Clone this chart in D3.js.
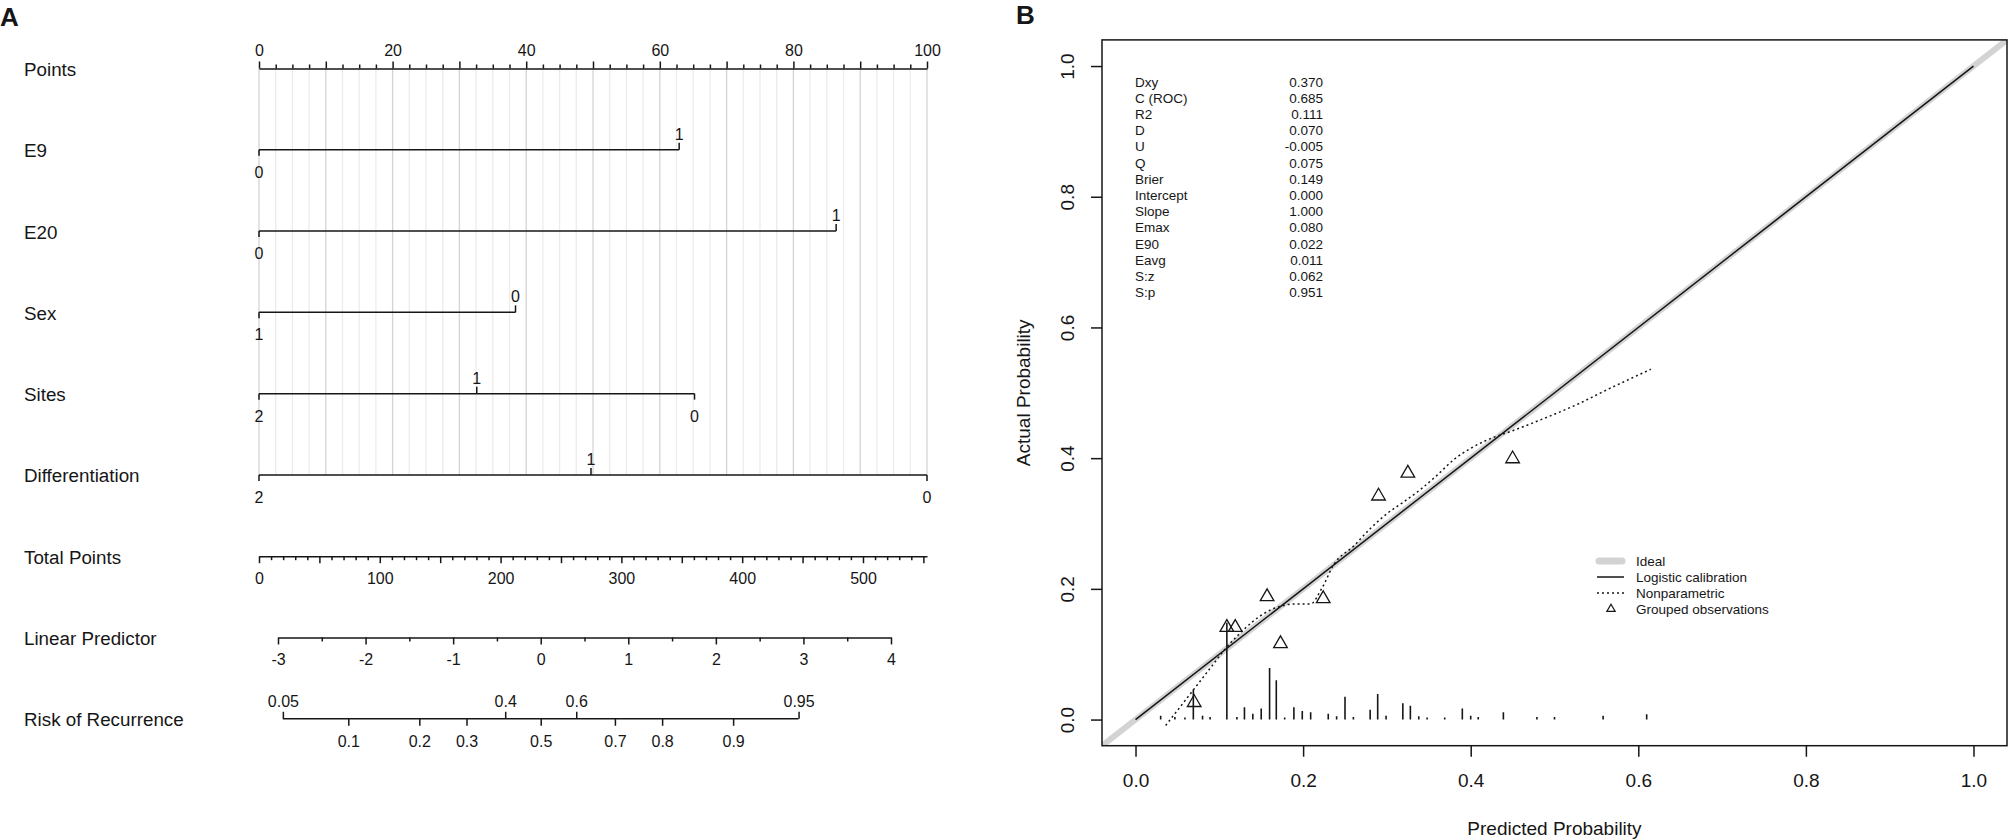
<!DOCTYPE html>
<html>
<head>
<meta charset="utf-8">
<title>Nomogram and calibration curve</title>
<script src="https://cdn.jsdelivr.net/npm/d3@7/dist/d3.min.js"></script>
<style>
  body { margin: 0; background: #fff; }
  svg { display: block; font-family: 'Liberation Sans', Arial, sans-serif; }
</style>
</head>
<body>
<svg id="chart" width="2008" height="840"></svg>
<script>
// ---------- Panel A: nomogram ----------
const rowNames = ['Points', 'E9', 'E20', 'Sex', 'Sites', 'Differentiation', 'Total Points', 'Linear Predictor', 'Risk of Recurrence']
const pointsLabels = [0, 20, 40, 60, 80, 100]
const varNames = ['E9', 'E20', 'Sex', 'Sites', 'Differentiation']
const varLevels = [['0', '1'], ['0', '1'], ['1', '0'], ['2', '1', '0'], ['2', '1', '0']]
const varPoints = [[0, 62.9], [0, 86.4], [0, 38.4], [0, 32.6, 65.2], [0, 49.7, 100]]
const varLabelUp = [[false, true], [false, true], [false, true], [false, true, false], [false, true, false]]
const totalLabels = [0, 100, 200, 300, 400, 500]
const totalMax = 553
const lpLabels = [-3, -2, -1, 0, 1, 2, 3, 4]
const riskUp = [0.05, 0.4, 0.6, 0.95]
const riskDown = [0.1, 0.2, 0.3, 0.5, 0.7, 0.8, 0.9]

// ---------- Panel B: calibration plot ----------
const probTicks = [0, 0.2, 0.4, 0.6, 0.8, 1.0]
const statNames = ['Dxy', 'C (ROC)', 'R2', 'D', 'U', 'Q', 'Brier', 'Intercept', 'Slope', 'Emax', 'E90', 'Eavg', 'S:z', 'S:p']
const statValues = ['0.370', '0.685', '0.111', '0.070', '-0.005', '0.075', '0.149', '0.000', '1.000', '0.080', '0.022', '0.011', '0.062', '0.951']
const groupPred = [0.070, 0.109, 0.119, 0.157, 0.173, 0.224, 0.290, 0.325, 0.450]
const groupObs = [0.026, 0.141, 0.141, 0.188, 0.116, 0.185, 0.342, 0.377, 0.399]
const npPred = [0.036, 0.05, 0.07, 0.09, 0.107, 0.12, 0.14, 0.16, 0.175, 0.19, 0.209, 0.222, 0.237, 0.26, 0.28, 0.30, 0.32, 0.34, 0.36, 0.38, 0.40, 0.42, 0.45, 0.49, 0.53, 0.56, 0.615]
const npObs = [-0.009, 0.014, 0.047, 0.080, 0.108, 0.126, 0.150, 0.167, 0.174, 0.177, 0.177, 0.200, 0.238, 0.265, 0.292, 0.315, 0.333, 0.352, 0.374, 0.398, 0.415, 0.428, 0.442, 0.462, 0.484, 0.503, 0.536]
const spikePred = [0.030, 0.047, 0.059, 0.069, 0.080, 0.089, 0.109, 0.121, 0.130, 0.140, 0.150, 0.160, 0.168, 0.178, 0.189, 0.199, 0.209, 0.230, 0.240, 0.250, 0.260, 0.280, 0.289, 0.299, 0.319, 0.328, 0.338, 0.348, 0.369, 0.390, 0.400, 0.409, 0.439, 0.479, 0.500, 0.558, 0.610]
const spikeFreq = [0.006, 0.004, 0.003, 0.046, 0.006, 0.004, 0.148, 0.004, 0.019, 0.009, 0.017, 0.079, 0.060, 0.003, 0.019, 0.013, 0.011, 0.009, 0.005, 0.035, 0.004, 0.015, 0.039, 0.006, 0.025, 0.021, 0.005, 0.003, 0.003, 0.017, 0.006, 0.004, 0.011, 0.004, 0.004, 0.006, 0.008]
const legendLabels = ['Ideal', 'Logistic calibration', 'Nonparametric', 'Grouped observations']

const ink = '#161616'
const svg = d3.select('#chart')

// restyles a d3 axis group to look like base R graphics
function styleAxis(g, fontSize) {
  g.attr('font-family', null).attr('font-size', fontSize)
  g.selectAll('path, line').attr('stroke', ink).attr('stroke-width', 1.5)
  g.selectAll('text').attr('fill', ink)
}

// ****************** Panel A ***************************

const rowY = d3.scalePoint().domain(rowNames).range([68.5, 718.75])
const pts = d3.scaleLinear().domain([0, 100]).range([259, 927])
const tot = d3.scaleLinear().domain([0, totalMax]).range([259, 927])
const lp = d3.scaleLinear().domain([-3, 4]).range([278, 891])
const logit = (p) => Math.log(p / (1 - p))
const probFmt = (v) => d3.format('.2~f')(1 / (1 + Math.exp(-v)))

const A = svg.append('g').attr('class', 'panel-a')

svg.append('text').attr('x', 0).attr('y', 26)
  .attr('font-size', 26).attr('font-weight', 700).attr('fill', ink).text('A')

// vertical reference lines behind the rows
A.append('g').selectAll('line')
  .data(d3.range(0, 100.001, 2.5))
  .join('line')
  .attr('x1', (d) => pts(d)).attr('x2', (d) => pts(d))
  .attr('y1', rowY('Points')).attr('y2', rowY('Differentiation'))
  .attr('stroke', (d) => (d % 10 === 0 ? '#d4d4d4' : '#ececec'))
  .attr('stroke-width', 1.3)

// row labels
A.selectAll('text.row')
  .data(rowNames)
  .join('text')
  .attr('class', 'row')
  .attr('x', 24)
  .attr('y', (d) => rowY(d) + 7.5)
  .attr('font-size', 18.8)
  .attr('fill', ink)
  .text((d) => d)

// Points axis
const pAxis = A.append('g').attr('transform', `translate(0,${rowY('Points')})`)
pAxis.call(d3.axisTop(pts).tickValues(d3.range(0, 101, 10)).tickSize(7).tickSizeOuter(0).tickPadding(6)
  .tickFormat((d) => (pointsLabels.includes(d) ? String(d) : '')))
pAxis.append('g').call(d3.axisTop(pts).tickValues(d3.range(0, 100.001, 2.5).filter((d) => d % 10 !== 0))
  .tickSize(4).tickFormat(''))
  .call((g) => g.select('.domain').remove())
styleAxis(pAxis, 16)

// predictor rows
varNames.forEach((name, i) => {
  const y = rowY(name)
  const g = A.append('g')
  const vals = varPoints[i]
  g.append('line')
    .attr('x1', pts(d3.min(vals))).attr('x2', pts(d3.max(vals)))
    .attr('y1', y).attr('y2', y)
    .attr('stroke', ink).attr('stroke-width', 1.5)
  g.selectAll('line.tick')
    .data(vals)
    .join('line')
    .attr('class', 'tick')
    .attr('x1', (d) => pts(d)).attr('x2', (d) => pts(d))
    .attr('y1', y)
    .attr('y2', (d, j) => (varLabelUp[i][j] ? y - 7 : y + 6))
    .attr('stroke', ink).attr('stroke-width', 1.5)
  g.selectAll('text')
    .data(vals)
    .join('text')
    .attr('x', (d) => pts(d))
    .attr('y', (d, j) => (varLabelUp[i][j] ? y - 10 : y + 28))
    .attr('text-anchor', 'middle')
    .attr('font-size', 16)
    .attr('fill', ink)
    .text((d, j) => varLevels[i][j])
})

// Total Points axis
const tAxis = A.append('g').attr('transform', `translate(0,${rowY('Total Points')})`)
tAxis.call(d3.axisBottom(tot).tickValues(d3.range(0, 551, 50)).tickSize(7).tickSizeOuter(0).tickPadding(9.6)
  .tickFormat((d) => (totalLabels.includes(d) ? String(d) : '')))
tAxis.append('g').call(d3.axisBottom(tot).tickValues(d3.range(0, 551, 10).filter((d) => d % 50 !== 0))
  .tickSize(4).tickFormat(''))
  .call((g) => g.select('.domain').remove())
styleAxis(tAxis, 16)

// Linear Predictor axis
const lAxis = A.append('g').attr('transform', `translate(0,${rowY('Linear Predictor')})`)
lAxis.call(d3.axisBottom(lp).tickValues(lpLabels).tickSize(7).tickSizeOuter(0).tickPadding(9.6)
  .tickFormat((d) => String(d)))
lAxis.append('g').call(d3.axisBottom(lp).tickValues(d3.range(-2.5, 4, 1)).tickSize(4).tickFormat(''))
  .call((g) => g.select('.domain').remove())
styleAxis(lAxis, 16)

// Risk of Recurrence axis (logit spaced)
const rY = rowY('Risk of Recurrence')
const rAxis = A.append('g').attr('transform', `translate(0,${rY})`)
rAxis.append('line')
  .attr('x1', lp(logit(d3.min(riskUp)))).attr('x2', lp(logit(d3.max(riskUp))))
  .attr('y1', 0).attr('y2', 0)
rAxis.append('g').call(d3.axisTop(lp).tickValues(riskUp.map(logit)).tickSize(7).tickPadding(5).tickFormat(probFmt))
  .call((g) => g.select('.domain').remove())
rAxis.append('g').call(d3.axisBottom(lp).tickValues(riskDown.map(logit)).tickSize(7).tickPadding(9.6).tickFormat(probFmt))
  .call((g) => g.select('.domain').remove())
rAxis.selectAll('g').attr('font-family', null).attr('font-size', 16)
styleAxis(rAxis, 16)

// ****************** Panel B ***************************

const xB = d3.scaleLinear().domain([-0.04, 1.04]).range([1102, 2007])
const yB = d3.scaleLinear().domain([-0.04, 1.04]).range([745.7, 39.9])

const B = svg.append('g').attr('class', 'panel-b')

svg.append('text').attr('x', 1016).attr('y', 24)
  .attr('font-size', 26).attr('font-weight', 700).attr('fill', ink).text('B')

B.append('clipPath').attr('id', 'plot-clip')
  .append('rect')
  .attr('x', xB(-0.04)).attr('y', yB(1.04))
  .attr('width', xB(1.04) - xB(-0.04)).attr('height', yB(-0.04) - yB(1.04))

const plot = B.append('g').attr('clip-path', 'url(#plot-clip)')

// ideal line
plot.append('line')
  .attr('x1', xB(-0.04)).attr('y1', yB(-0.04))
  .attr('x2', xB(1.04)).attr('y2', yB(1.04))
  .attr('stroke', '#d3d3d3').attr('stroke-width', 6)

// logistic calibration
plot.append('line')
  .attr('x1', xB(0)).attr('y1', yB(0))
  .attr('x2', xB(1)).attr('y2', yB(1))
  .attr('stroke', ink).attr('stroke-width', 1.5)

// nonparametric (lowess) curve
const npLine = d3.line()
  .x((d, i) => xB(npPred[i]))
  .y((d, i) => yB(npObs[i]))
  .curve(d3.curveMonotoneX)
plot.append('path')
  .attr('d', npLine(npPred))
  .attr('fill', 'none')
  .attr('stroke', ink).attr('stroke-width', 1.5)
  .attr('stroke-dasharray', '2,3')

// distribution of predictions
plot.selectAll('line.spike')
  .data(spikePred)
  .join('line')
  .attr('class', 'spike')
  .attr('x1', (d) => xB(d)).attr('x2', (d) => xB(d))
  .attr('y1', yB(0))
  .attr('y2', (d, i) => yB(spikeFreq[i]))
  .attr('stroke', ink).attr('stroke-width', 1.6)

// grouped observations
const tri = d3.symbol(d3.symbolTriangle, 80)
plot.selectAll('path.grp')
  .data(groupPred)
  .join('path')
  .attr('class', 'grp')
  .attr('transform', (d, i) => `translate(${xB(d)},${yB(groupObs[i])})`)
  .attr('d', tri)
  .attr('fill', 'none')
  .attr('stroke', ink).attr('stroke-width', 1.3)

// frame
B.append('rect')
  .attr('x', xB(-0.04)).attr('y', yB(1.04))
  .attr('width', xB(1.04) - xB(-0.04)).attr('height', yB(-0.04) - yB(1.04))
  .attr('fill', 'none').attr('stroke', ink).attr('stroke-width', 1.5)

// axes
const xAxis = B.append('g').attr('transform', `translate(0,${yB(-0.04)})`)
xAxis.call(d3.axisBottom(xB).tickValues(probTicks).tickSize(11).tickPadding(16.8).tickFormat(d3.format('.1f')))
  .call((g) => g.select('.domain').remove())
styleAxis(xAxis, 19)

const yAxis = B.append('g').attr('transform', `translate(${xB(-0.04)},0)`)
yAxis.call(d3.axisLeft(yB).tickValues(probTicks).tickSize(11).tickFormat(d3.format('.1f')))
  .call((g) => g.select('.domain').remove())
yAxis.selectAll('text')
  .attr('x', null).attr('dy', null)
  .attr('text-anchor', 'middle')
  .attr('transform', 'translate(-28,0) rotate(-90)')
styleAxis(yAxis, 19)

B.append('text')
  .attr('x', (xB(-0.04) + xB(1.04)) / 2).attr('y', 835)
  .attr('text-anchor', 'middle').attr('font-size', 19).attr('fill', ink)
  .text('Predicted Probability')

B.append('text')
  .attr('transform', `translate(1030,${(yB(-0.04) + yB(1.04)) / 2}) rotate(-90)`)
  .attr('text-anchor', 'middle').attr('font-size', 19).attr('fill', ink)
  .text('Actual Probability')

// statistics table
const stats = B.append('g').attr('font-size', 13.5).attr('fill', ink)
stats.selectAll('text.sname')
  .data(statNames)
  .join('text')
  .attr('class', 'sname')
  .attr('x', 1135)
  .attr('y', (d, i) => 86.5 + i * 16.2)
  .text((d) => d)
stats.selectAll('text.sval')
  .data(statValues)
  .join('text')
  .attr('class', 'sval')
  .attr('x', 1323)
  .attr('y', (d, i) => 86.5 + i * 16.2)
  .attr('text-anchor', 'end')
  .text((d) => d)

// legend
const legend = B.append('g').attr('transform', 'translate(1597,561)')
legendLabels.forEach((label, i) => {
  const y = i * 16
  if (i === 0) {
    legend.append('line').attr('x1', 2).attr('x2', 25).attr('y1', y).attr('y2', y)
      .attr('stroke', '#d3d3d3').attr('stroke-width', 7).attr('stroke-linecap', 'round')
  } else if (i === 1 || i === 2) {
    legend.append('line').attr('x1', 0).attr('x2', 27).attr('y1', y).attr('y2', y)
      .attr('stroke', ink).attr('stroke-width', 1.5)
      .attr('stroke-dasharray', i === 2 ? '2,3' : null)
  } else {
    legend.append('path').attr('transform', `translate(14,${y})`)
      .attr('d', d3.symbol(d3.symbolTriangle, 30))
      .attr('fill', 'none').attr('stroke', ink).attr('stroke-width', 1.2)
  }
  legend.append('text').attr('x', 39).attr('y', y + 5)
    .attr('font-size', 13.5).attr('fill', ink).text(label)
})
</script>
</body>
</html>
